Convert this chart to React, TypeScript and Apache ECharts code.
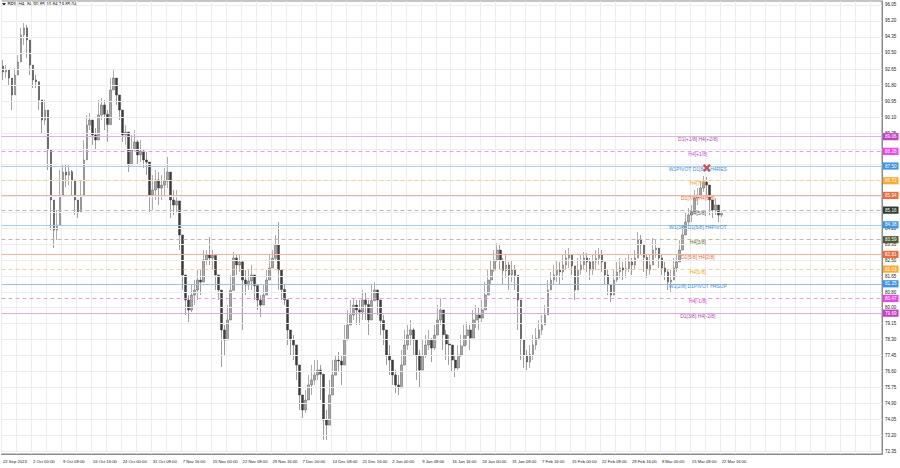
import React, { useEffect, useRef } from "react";
import * as echarts from "echarts";

// ---------- data ----------
const symbolName = "BRN,H4";

const timeLabels = [
  "22 Sep 2023", "2 Oct 00:00", "9 Oct 08:00", "16 Oct 16:00", "24 Oct 00:00",
  "31 Oct 08:00", "7 Nov 16:00", "15 Nov 00:00", "22 Nov 08:00", "29 Nov 16:00",
  "7 Dec 00:00", "14 Dec 08:00", "21 Dec 16:00", "2 Jan 00:00", "9 Jan 08:00",
  "16 Jan 16:00", "24 Jan 00:00", "31 Jan 08:00", "7 Feb 16:00", "15 Feb 00:00",
  "22 Feb 08:00", "29 Feb 16:00", "8 Mar 00:00", "15 Mar 08:00", "22 Mar 16:00",
];

const priceTicks = [
  "96.05", "95.20", "94.35", "93.50", "92.65", "91.80", "90.95", "90.10", "89.25", "88.40",
  "87.60", "86.75", "85.90", "85.05", "84.20", "83.35", "82.50", "81.65", "80.80", "80.00",
  "79.15", "78.30", "77.45", "76.60", "75.75", "74.90", "74.05", "73.20", "72.35",
];

const firstOpen = 92.8;

const closes = [
  92.49, 92.60, 92.17, 91.27, 92.33, 93.02, 94.46, 94.83, 94.19, 92.86,
  92.07, 91.98, 91.01, 89.94, 90.47, 88.35, 85.70, 84.10, 84.37, 85.96,
  87.18, 87.02, 87.20, 86.76, 85.70, 85.06, 85.96, 87.82, 89.68, 89.94,
  89.15, 88.88, 90.21, 90.74, 90.25, 89.70, 91.54, 92.17, 91.27, 90.47,
  89.15, 89.31, 87.56, 88.35, 88.78, 88.09, 88.30, 87.82, 87.71, 85.96,
  86.23, 86.76, 86.33, 86.49, 86.70, 87.18, 85.70, 85.43, 85.65, 83.84,
  81.72, 80.39, 79.86, 80.65, 80.92, 81.45, 81.34, 82.51, 82.78, 82.62,
  82.75, 81.72, 80.92, 78.80, 78.27, 79.33, 80.90, 82.62, 82.25, 82.41,
  81.45, 81.19, 81.40, 81.72, 81.15, 80.39, 80.12, 80.65, 81.45, 82.09,
  82.60, 83.31, 81.98, 80.95, 80.40, 78.80, 78.27, 78.00, 76.94, 75.35,
  74.55, 75.08, 75.88, 76.14, 76.41, 76.67, 76.45, 74.02, 73.75, 75.35,
  76.40, 77.20, 77.15, 76.94, 78.27, 79.06, 79.59, 80.12, 79.86, 79.75,
  80.39, 80.15, 79.33, 80.35, 80.92, 80.39, 79.30, 78.80, 77.47, 77.20,
  76.41, 75.88, 75.72, 76.94, 78.00, 78.53, 78.80, 78.27, 77.47, 76.67,
  77.45, 78.00, 78.25, 77.84, 78.53, 79.33, 79.86, 78.55, 78.05, 78.00,
  77.20, 76.78, 77.47, 77.95, 78.50, 78.80, 78.37, 79.33, 79.59, 79.43,
  79.86, 80.65, 81.45, 81.98, 82.51, 83.04, 82.50, 81.95, 82.25, 81.72,
  81.98, 81.70, 80.39, 78.27, 77.47, 77.10, 77.50, 78.00, 78.37, 78.80,
  79.06, 79.59, 80.92, 81.45, 81.72, 81.98, 81.88, 82.25, 82.62, 82.78,
  82.20, 80.92, 82.00, 82.25, 82.62, 82.41, 81.98, 82.45, 82.60, 82.78,
  82.41, 81.72, 81.19, 80.65, 81.45, 81.88, 82.09, 81.98, 82.05, 82.41,
  82.25, 82.62, 83.57, 83.31, 82.65, 81.98, 82.25, 83.04, 83.15, 82.62,
  82.09, 81.88, 81.34, 81.45, 82.09, 82.41, 83.04, 83.84, 84.53, 84.90,
  85.06, 85.80, 85.96, 86.33, 86.65, 86.49, 85.70, 85.17, 85.43, 84.90,
  85.04,
];

const lows = [
  92.07, 92.17, 91.80, 90.47, 91.54, 92.49, 93.13, 93.92, 93.23, 92.33,
  91.64, 91.64, 90.47, 89.25, 89.68, 87.29, 84.10, 83.15, 83.57, 84.90,
  86.49, 86.39, 86.49, 85.96, 84.90, 84.74, 85.17, 86.49, 88.88, 89.41,
  88.62, 88.35, 88.88, 89.94, 89.41, 88.78, 90.47, 91.54, 90.74, 89.94,
  88.78, 88.62, 87.18, 87.82, 88.35, 87.56, 87.71, 87.40, 87.02, 85.06,
  85.17, 85.70, 85.43, 85.70, 85.96, 86.33, 84.74, 84.90, 85.06, 83.04,
  80.92, 79.59, 79.22, 79.75, 80.12, 80.39, 80.65, 81.72, 82.25, 82.25,
  81.98, 80.92, 80.39, 76.83, 77.47, 78.53, 79.86, 81.72, 81.72, 81.88,
  78.80, 80.65, 80.92, 80.92, 80.39, 79.86, 79.49, 80.12, 80.92, 81.45,
  82.09, 82.51, 80.92, 80.39, 80.12, 78.00, 77.47, 77.20, 76.14, 74.55,
  74.13, 74.39, 75.08, 75.35, 75.88, 76.14, 75.08, 72.96, 72.96, 74.29,
  75.61, 76.67, 76.57, 75.88, 77.47, 78.53, 79.06, 79.33, 79.06, 79.06,
  79.33, 79.33, 78.53, 79.59, 80.39, 79.59, 78.53, 78.00, 76.94, 76.41,
  75.88, 75.45, 75.35, 76.14, 77.20, 77.74, 78.00, 77.47, 76.14, 75.72,
  76.94, 77.31, 77.74, 77.10, 77.74, 78.53, 79.06, 77.74, 77.20, 76.94,
  76.57, 76.30, 76.67, 77.36, 78.00, 78.00, 77.74, 78.53, 78.90, 78.80,
  79.22, 79.86, 80.65, 81.19, 81.88, 82.41, 81.98, 81.19, 81.56, 80.92,
  81.34, 80.92, 78.80, 77.20, 76.78, 76.67, 76.78, 77.20, 77.74, 78.27,
  78.53, 79.06, 79.86, 80.92, 81.19, 81.34, 81.19, 81.45, 81.98, 82.09,
  81.72, 80.39, 81.19, 81.72, 81.98, 81.88, 81.45, 81.72, 81.98, 82.25,
  81.88, 81.19, 80.65, 80.28, 80.81, 81.34, 81.56, 81.45, 81.56, 81.88,
  81.72, 81.98, 82.62, 82.78, 81.88, 81.56, 81.72, 82.41, 82.62, 82.09,
  81.72, 81.45, 80.92, 80.81, 81.45, 81.88, 82.41, 83.04, 83.84, 84.37,
  84.53, 85.06, 85.43, 85.80, 86.12, 85.96, 84.90, 84.74, 84.90, 84.53,
  84.79,
];

const highs = [
  93.13, 92.86, 92.60, 92.07, 92.70, 93.39, 94.83, 95.09, 94.99, 93.66,
  92.60, 92.33, 91.80, 91.01, 91.01, 89.15, 87.29, 84.90, 85.17, 87.29,
  87.56, 87.56, 87.56, 87.29, 86.76, 85.70, 86.76, 88.88, 90.21, 90.32,
  89.94, 89.52, 91.01, 91.11, 91.01, 90.47, 92.17, 92.60, 92.07, 91.27,
  89.94, 89.68, 88.62, 89.15, 89.41, 88.88, 88.88, 88.35, 88.25, 86.87,
  87.02, 87.29, 87.18, 87.02, 87.40, 87.98, 86.49, 86.23, 86.23, 85.17,
  83.31, 81.45, 80.65, 81.19, 81.45, 81.98, 81.98, 83.04, 83.04, 83.73,
  83.04, 82.78, 81.72, 80.92, 79.06, 80.12, 81.72, 82.94, 82.78, 82.78,
  82.51, 81.98, 81.98, 82.25, 81.72, 81.19, 80.65, 81.19, 81.98, 82.78,
  83.04, 83.84, 84.53, 81.29, 81.19, 79.59, 78.80, 78.53, 77.74, 76.14,
  75.19, 75.61, 76.41, 76.94, 77.20, 77.20, 76.94, 75.08, 74.55, 76.14,
  77.20, 77.47, 77.63, 77.47, 79.06, 79.86, 80.39, 80.50, 80.39, 80.39,
  80.92, 80.76, 80.39, 81.19, 81.34, 80.92, 80.12, 79.59, 78.27, 78.00,
  77.20, 76.67, 76.41, 77.74, 78.80, 79.06, 79.33, 78.90, 78.27, 77.74,
  78.27, 78.53, 78.80, 78.37, 79.06, 80.12, 80.50, 79.33, 78.80, 78.53,
  78.00, 77.47, 78.00, 78.53, 79.06, 79.22, 79.06, 79.86, 80.12, 80.02,
  80.39, 81.34, 81.98, 82.51, 83.04, 83.41, 83.31, 82.62, 82.78, 82.41,
  82.51, 82.25, 81.19, 79.33, 78.27, 77.74, 78.00, 78.53, 78.90, 79.33,
  79.59, 80.12, 81.45, 81.88, 82.25, 82.51, 82.41, 82.78, 83.04, 83.15,
  82.78, 81.98, 82.62, 82.78, 82.94, 82.88, 82.62, 82.78, 83.04, 83.15,
  83.04, 82.41, 81.98, 81.19, 81.98, 82.41, 82.62, 82.41, 82.62, 82.78,
  82.62, 83.04, 84.00, 83.84, 83.31, 82.78, 82.78, 83.68, 83.57, 83.15,
  82.78, 82.41, 81.98, 81.98, 82.62, 82.78, 83.57, 84.37, 85.01, 85.27,
  85.43, 86.23, 86.33, 86.76, 86.97, 86.92, 86.33, 85.70, 85.80, 85.43,
  85.10,
];

const levelValues = [89.06, 88.28, 87.5, 86.72, 85.94, 85.16, 84.38, 83.59, 82.81, 82.03, 81.25, 80.47, 79.69];
const levelNames = [
  "D1[+1/8] H4[+2/8]",
  "H4[+1/8]",
  "W1PIVOT D1[8/8] H4RES",
  "H4[7/8]",
  "D1[7/8] H4[6/8]",
  "H4[5/8]",
  "W1[3/8] D1[6/8] H4PIVOT",
  "H4[3/8]",
  "D1[5/8] H4[2/8]",
  "H4[1/8]",
  "W1[2/8] D1PIVOT H4SUP",
  "H4[-1/8]",
  "D1[3/8] H4[-2/8]",
];

const signalIndex = 235;
const signalPrice = 87.4;

// ---------- styles / layout (not data) ----------
const SLOTS = 294;
const LABEL_SLOT = 232;
const FONT = "'Liberation Sans', Arial, sans-serif";
const levelLineColors = ["#dcb4dc", "#e79ae7", "#a8cdec", "#f2cf9c", "#f1b39b", "#b9b9b9", "#a8cdec", "#bdbd9e", "#f1b39b", "#f2cf9c", "#a3c0da", "#e79ae7", "#d6afd6"];
const levelTextColors = ["#b043b0", "#d83cd8", "#3a8fd6", "#f0a030", "#e8683a", "#505050", "#3a8fd6", "#6b6b3a", "#e8683a", "#f0a030", "#3a8fd6", "#d83cd8", "#b043b0"];
const levelBoxColors = ["#c63ec6", "#ee44ee", "#3c96e6", "#ffa733", "#f26a3a", "#2e3b2e", "#3c96e6", "#4d5a35", "#f26a3a", "#ffa733", "#3c96e6", "#ee44ee", "#c63ec6"];
const levelDashed = [false, true, false, true, false, true, false, true, false, true, false, true, false];

export default function App() {
  const ref = useRef<HTMLDivElement>(null);

  useEffect(() => {
    if (!ref.current) return;
    const chart = echarts.init(ref.current, null, { renderer: "svg" });

    const slots = Array.from({ length: SLOTS }, (_, i) => String(i));
    const candles = closes.map((c, i) => {
      const o = i === 0 ? firstOpen : closes[i - 1];
      const l = Math.min(lows[i], o, c);
      const h = Math.max(highs[i], o, c);
      return [o, c, l, h];
    });
    const last = candles[candles.length - 1];
    const titleText = `${symbolName}  ${last[0].toFixed(2)} ${last[3].toFixed(2)} ${last[2].toFixed(2)} ${last[1].toFixed(2)}`;
    const tickNums = priceTicks.map(Number);
    // price labels hidden under the level boxes on the scale
    const shownTicks = tickNums.filter((t) => levelValues.every((lv) => Math.abs(lv - t) > 0.15));

    chart.setOption({
      animation: false,
      backgroundColor: "#ffffff",
      textStyle: { fontFamily: FONT },
      grid: { left: 0, top: 1, right: 18, bottom: 14, show: true, borderColor: "#8a8a8a", borderWidth: 1 },
      xAxis: {
        type: "category",
        data: slots,
        boundaryGap: true,
        axisLine: { show: true, lineStyle: { color: "#8a8a8a", width: 1 } },
        axisTick: { show: false },
        axisLabel: {
          interval: (i: number) => i % 10 === 0 && i / 10 < timeLabels.length,
          formatter: (_v: string, i: number) => timeLabels[i / 10] ?? "",
          align: "left",
          fontSize: 4.2,
          color: "#222",
          margin: 5,
          fontFamily: FONT,
        },
        splitLine: { show: true, interval: 4, lineStyle: { color: "#ededed", width: 1 } },
      },
      yAxis: {
        type: "value",
        position: "right",
        min: 72.215,
        max: 96.26,
        axisLine: { show: true, lineStyle: { color: "#8a8a8a", width: 1 } },
        axisTick: { show: false },
        splitLine: { show: false },
        axisLabel: {
          customValues: shownTicks,
          formatter: (v: number) => v.toFixed(2),
          fontSize: 4.5,
          color: "#222",
          margin: 3,
          fontFamily: FONT,
        },
      },
      graphic: [
        { type: "polygon", shape: { points: [[2, 3], [6, 3], [4, 6]] }, style: { fill: "#333" } },
        { type: "text", x: 7.5, y: 2.2, style: { text: titleText, fontSize: 4.6, fill: "#222", fontFamily: FONT } },
      ],
      series: [
        {
          name: "grid",
          type: "line",
          data: [],
          silent: true,
          z: 1,
          markLine: {
            silent: true,
            symbol: ["none", "none"],
            label: { show: false },
            lineStyle: { color: "#ededed", type: "solid", width: 1 },
            data: tickNums.map((v) => ({ yAxis: v })),
          },
        },
        {
          name: "levels",
          type: "line",
          data: [],
          silent: true,
          z: 2,
          markLine: {
            silent: true,
            symbol: ["none", "none"],
            data: levelValues.map((v, k) => ({
              yAxis: v,
              lineStyle: { color: levelLineColors[k], type: levelDashed[k] ? [4, 3] : "solid", width: 1 },
              label: {
                show: true,
                position: "end",
                distance: 1,
                formatter: v.toFixed(2),
                backgroundColor: levelBoxColors[k],
                color: "#ffffff",
                fontSize: 4.6,
                padding: [1.2, 2, 1, 2],
                fontFamily: FONT,
              },
            })),
          },
          markPoint: {
            silent: true,
            symbol: "rect",
            symbolSize: 1,
            itemStyle: { color: "rgba(0,0,0,0)" },
            data: levelValues.map((v, k) => ({
              coord: [LABEL_SLOT, v],
              label: {
                show: true,
                position: "inside",
                offset: [0, 2.5],
                formatter: levelNames[k],
                color: levelTextColors[k],
                fontSize: 5,
                fontFamily: FONT,
              },
            })),
          },
        },
        {
          name: symbolName,
          type: "candlestick",
          data: candles,
          z: 3,
          barWidth: 2.2,
          itemStyle: {
            color: "#a8a8a8",
            color0: "#3c3c3c",
            borderColor: "#5c5c5c",
            borderColor0: "#3c3c3c",
            borderWidth: 0.5,
          },
          markPoint: {
            silent: true,
            data: [
              {
                coord: [signalIndex, signalPrice],
                symbol: "path://M0,2L2,0L5,3L8,0L10,2L7,5L10,8L8,10L5,7L2,10L0,8L3,5Z",
                symbolSize: 8,
                itemStyle: { color: "#e8463a" },
                label: { show: false },
              },
            ],
          },
        },
      ],
    });

    return () => chart.dispose();
  }, []);

  return <div ref={ref} style={{ position: "fixed", left: 0, top: 0, width: 900, height: 468 }} />;
}
